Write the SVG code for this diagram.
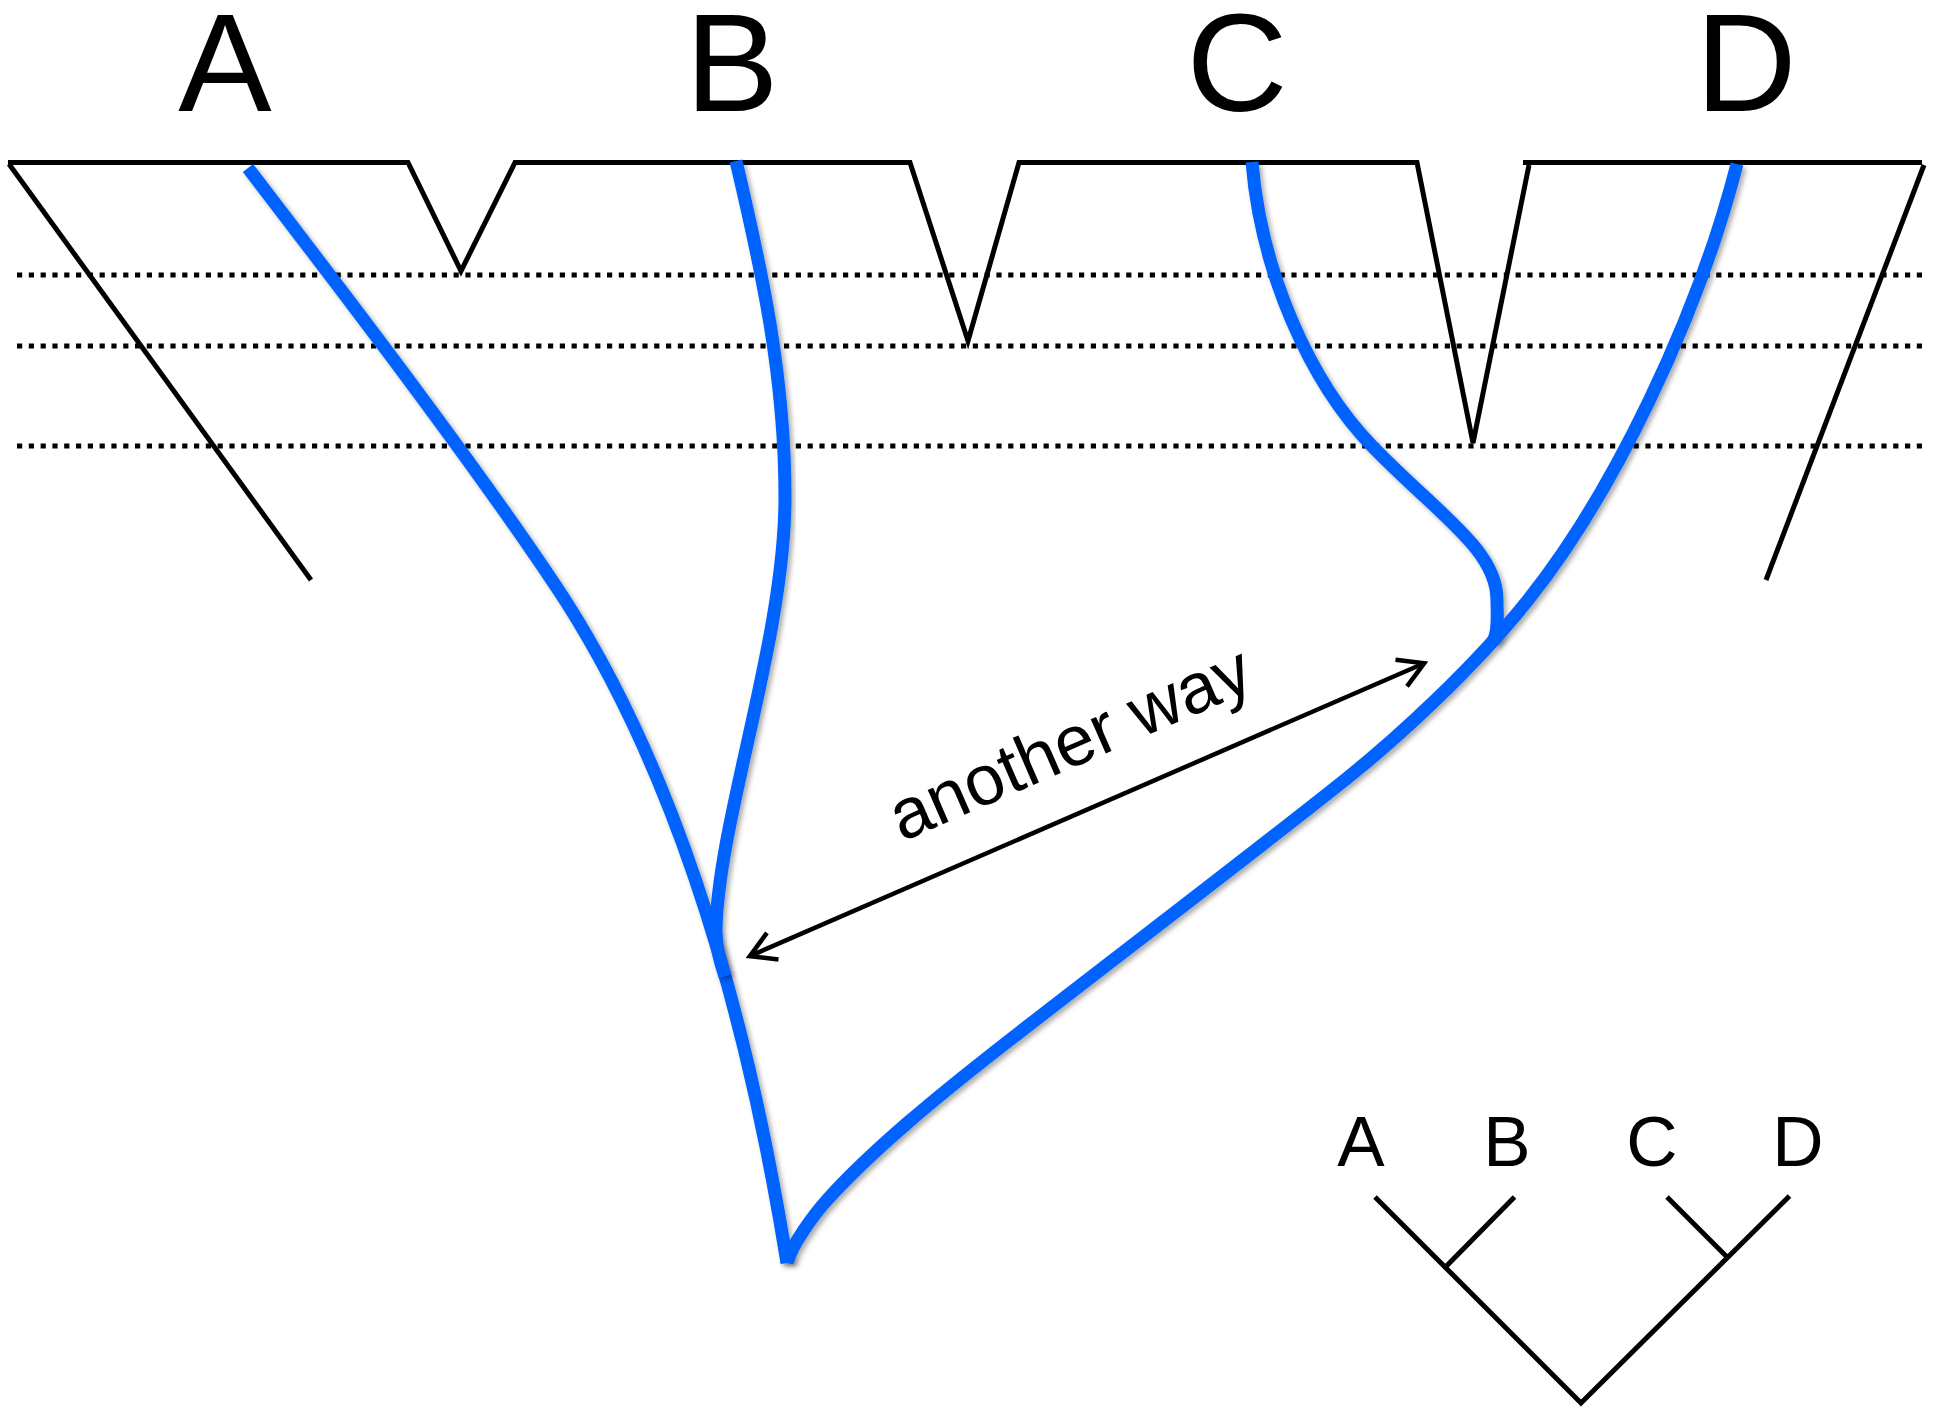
<svg xmlns="http://www.w3.org/2000/svg" width="1937" height="1408" viewBox="0 0 1937 1408">
<style>
.lbl{font-family:"Liberation Sans",Arial,Helvetica,sans-serif;fill:#000;text-anchor:middle}
.big{font-size:140px}
.small{font-size:71px}
.blk{fill:none;stroke:#000;stroke-width:5;stroke-linecap:butt;stroke-linejoin:miter}
.dot{fill:none;stroke:#000;stroke-width:4.8;stroke-dasharray:5.2 6.6}
.blue{fill:none;stroke:#0062ff;stroke-width:13;stroke-linecap:butt;stroke-linejoin:round;filter:url(#sh)}
.arr{fill:none;stroke:#000;stroke-width:4.5}
</style>
<defs>
<filter id="sh" x="-10%" y="-5%" width="125%" height="115%">
<feDropShadow dx="3" dy="3" stdDeviation="2.5" flood-color="#000" flood-opacity="0.33"/>
</filter>
<marker id="ah" viewBox="-30 -20 40 40" refX="0" refY="0" markerWidth="40" markerHeight="40" markerUnits="userSpaceOnUse" orient="auto-start-reverse" overflow="visible">
<path d="M-25,-14.5 L0,0 L-25,14.5" fill="none" stroke="#000" stroke-width="4.5" stroke-linejoin="miter"/>
</marker>
</defs>
<rect width="1937" height="1408" fill="#fff"/>

<g id="labels-top">
<text class="lbl big" x="225" y="111">A</text>
<text class="lbl big" x="732" y="111">B</text>
<text class="lbl big" x="1237" y="111">C</text>
<text class="lbl big" x="1746" y="111">D</text>
</g>

<g id="time-lines">
<line class="dot" x1="17" y1="275" x2="1925" y2="275"/>
<line class="dot" x1="17" y1="346" x2="1925" y2="346"/>
<line class="dot" x1="17" y1="446" x2="1925" y2="446"/>
</g>

<g id="species-tree">
<polyline class="blk" points="311,580 9,164"/>
<polyline class="blk" points="8,162.5 408,162.5 461,271 515,162.5 910,162.5 968,341 1019,162.5 1417,162.5 1473,443 1529,165"/>
<line class="blk" x1="1523" y1="162.5" x2="1922" y2="162.5"/>
<line class="blk" x1="1924" y1="165" x2="1766" y2="580"/>
</g>

<g id="gene-tree">
<path id="gene-A" class="blue" d="M248,168 C330,275 480,470 565,600 C680,780 748,1020 787,1263"/>
<path id="gene-B" class="blue" d="M736,161 C762,271 785,377 785,497 C785,640 718,820 716,930 C715.7,948 720,962 725,976"/>
<path id="gene-C" class="blue" d="M1252,162 C1261,272 1310,382 1372,446 C1440,516 1497,550 1497,600 C1497,615 1499,632 1493,641"/>
<path id="gene-D" class="blue" d="M1737,164 C1697,320 1612,495 1528,600 C1472,670 1396,739 1346,779 C1258.5,849 1091.6,976 1002,1046 C938,1096 872,1150 827,1200 C813.5,1215 791.5,1245 787,1263"/>
</g>

<g id="connectors">
<line class="arr" x1="749.8" y1="956.1" x2="1424.2" y2="663.2" marker-start="url(#ah)" marker-end="url(#ah)"/>
</g>
<g id="arrow-label">
<text class="lbl" style="text-anchor:start;font-size:71px" transform="translate(902,842) rotate(-23.5)">another way</text>
</g>

<g id="small-tree">
<text class="lbl small" x="1361" y="1166">A</text>
<text class="lbl small" x="1507" y="1166">B</text>
<text class="lbl small" x="1652" y="1166">C</text>
<text class="lbl small" x="1798" y="1166">D</text>
<polyline class="blk" points="1375,1197 1581,1403 1789.5,1196"/>
<line class="blk" x1="1514.5" y1="1197" x2="1445.5" y2="1267"/>
<line class="blk" x1="1667" y1="1197" x2="1727" y2="1257"/>
</g>
</svg>
